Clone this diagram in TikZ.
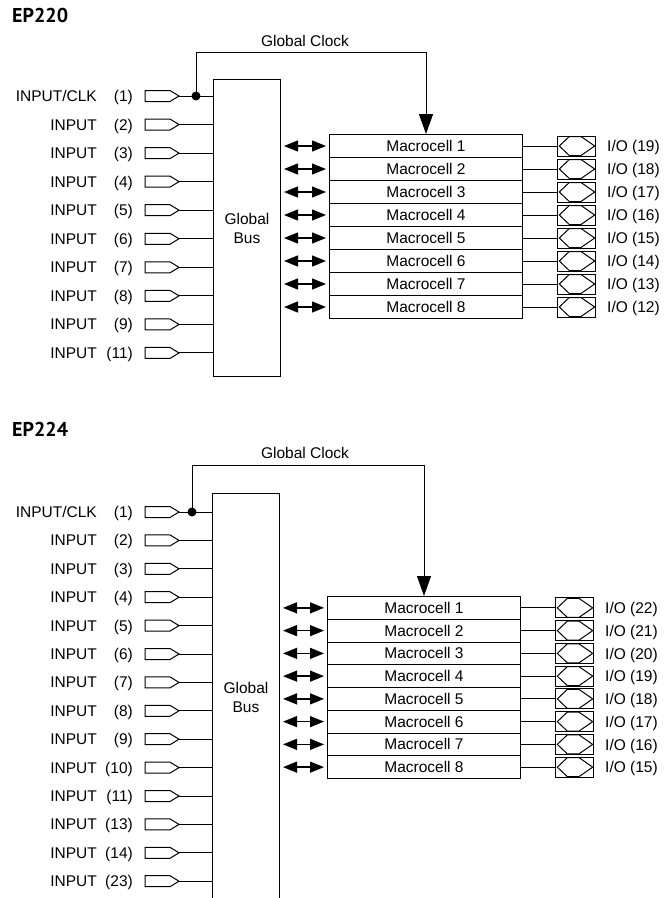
\documentclass[tikz,border=0pt]{standalone}
\usepackage{fontspec}
\setmainfont{Liberation Sans}
\newfontfamily\titlefont{PT Sans}
\usetikzlibrary{arrows.meta,positioning}

\tikzset{
  lbl/.style={font=\fontsize{15.5}{19}\selectfont, inner sep=0pt},
  title/.style={font=\titlefont\bfseries\fontsize{20}{24}\selectfont, inner sep=0pt, anchor=base west},
  wire/.style={line width=1pt},
  busbox/.style={draw, line width=1pt, lbl, align=center, minimum width=67pt, anchor=north west},
  cellbox/.style={draw, line width=1pt, lbl, minimum width=193pt, anchor=north west},
  iobox/.style={draw, line width=1pt, minimum width=38pt, minimum height=20pt, inner sep=0pt, right=34pt of #1},
  iolbl/.style={lbl, text depth=0pt, right=11pt of #1},
  bidir/.style={line width=1.3pt, {Triangle[length=14pt,width=11pt]}-{Triangle[length=14pt,width=11pt]}, shorten <=3pt, shorten >=3pt},
  clkarrow/.style={wire, -{Triangle[length=20pt,width=14pt]}},
}

% diamond inside an I/O pin box
\newcommand\iodiamond[1]{\draw[wire] ([xshift=2.3pt]#1.west) -- ([xshift=12.3pt,yshift=-1pt]#1.north west)
  -- ([xshift=24pt,yshift=-1pt]#1.north west) -- ([xshift=-1.3pt]#1.east)
  -- ([xshift=24pt,yshift=1pt]#1.south west) -- ([xshift=12.3pt,yshift=1pt]#1.south west) -- cycle;}

\begin{document}
\begin{tikzpicture}[x=1pt,y=-1pt]
\useasboundingbox (0,0) rectangle (664,898);

% EP220
\node[title] (t220) at (12,22.7) {EP220};
\node[lbl, anchor=base] (gc220) at (305,46.7) {Global Clock};
\node[busbox, minimum height=297pt] (bus220) at (213,79) {Global\\Bus};

\foreach \pin [count=\i, evaluate=\i as \y using 96+(\i-1)*28.55] in {1,2,3,4,5,6,7,8,9,11} {
  \node[lbl, anchor=base east] (name220-\i) at (97,\y+5.5) {\ifnum\i=1 INPUT/CLK\else INPUT\fi};
  \node[lbl, anchor=base east] (pin220-\i) at (133,\y+5.5) {(\pin)};
  \draw[wire] (145,\y-5.5) -- (170,\y-5.5) -- (179,\y) coordinate (buf220-\i) -- (170,\y+5.5) -- (145,\y+5.5) -- cycle;
  \draw[wire] (buf220-\i) -- (buf220-\i -| bus220.west);
}

\foreach \pin [count=\i, evaluate=\i as \y using 134+(\i-1)*23] in {19,18,...,12} {
  \node[cellbox, minimum height=23pt] (cell220-\i) at (329,\y) {Macrocell \i};
  \node[iobox=cell220-\i] (io220-\i) {};
  \iodiamond{io220-\i}
  \node[iolbl=io220-\i] (iol220-\i) {I/O (\pin)};
  \draw[wire] (cell220-\i.east) -- (io220-\i.west);
  \draw[bidir] (cell220-\i.west -| bus220.east) -- (cell220-\i.west);
}

\coordinate (dot220) at (196,96);
\coordinate (clktop220) at (196,52);
\fill (dot220) circle (4.5pt);
\draw[clkarrow] (dot220) -- (clktop220) -| (cell220-1.north);

% EP224
\node[title] (t224) at (12,436.7) {EP224};
\node[lbl, anchor=base] (gc224) at (305,458.3) {Global Clock};
\node[busbox, minimum height=407pt] (bus224) at (212,493) {Global\\Bus};

\foreach \pin [count=\i, evaluate=\i as \y using 512+(\i-1)*28.4] in {1,2,3,4,5,6,7,8,9,10,11,13,14,23} {
  \node[lbl, anchor=base east] (name224-\i) at (97,\y+5.5) {\ifnum\i=1 INPUT/CLK\else INPUT\fi};
  \node[lbl, anchor=base east] (pin224-\i) at (133,\y+5.5) {(\pin)};
  \draw[wire] (145,\y-5.5) -- (170,\y-5.5) -- (179,\y) coordinate (buf224-\i) -- (170,\y+5.5) -- (145,\y+5.5) -- cycle;
  \draw[wire] (buf224-\i) -- (buf224-\i -| bus224.west);
}

\foreach \pin [count=\i, evaluate=\i as \y using 596+(\i-1)*22.75] in {22,21,...,15} {
  \node[cellbox, minimum height=22.75pt] (cell224-\i) at (327,\y) {Macrocell \i};
  \node[iobox=cell224-\i] (io224-\i) {};
  \iodiamond{io224-\i}
  \node[iolbl=io224-\i] (iol224-\i) {I/O (\pin)};
  \draw[wire] (cell224-\i.east) -- (io224-\i.west);
  \draw[bidir] (cell224-\i.west -| bus224.east) -- (cell224-\i.west);
}

\coordinate (dot224) at (192,512);
\coordinate (clktop224) at (192,465);
\fill (dot224) circle (4.5pt);
\draw[clkarrow] (dot224) -- (clktop224) -| (cell224-1.north);

\end{tikzpicture}
\end{document}
